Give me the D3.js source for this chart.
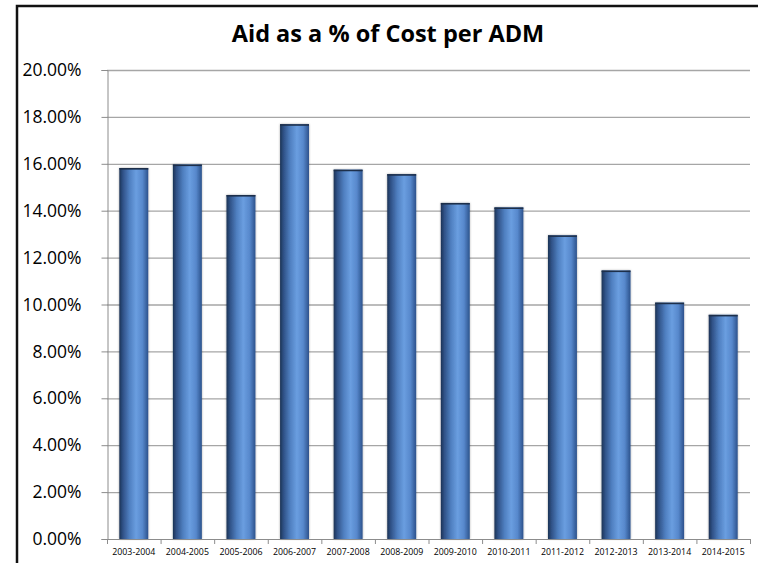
<!DOCTYPE html>
<html>
<head>
<meta charset="utf-8">
<script src="https://cdn.jsdelivr.net/npm/d3@7"></script>
<style>
  html, body { margin: 0; padding: 0; background: #fff; }
  svg { display: block; }
</style>
</head>
<body>
<svg id="chart" width="758" height="563"></svg>
<script>
// School years on the category axis
const categories = ["2003-2004", "2004-2005", "2005-2006", "2006-2007", "2007-2008", "2008-2009",
                    "2009-2010", "2010-2011", "2011-2012", "2012-2013", "2013-2014", "2014-2015"];
// Aid as a share of cost per ADM (percent)
const aidPct = [15.82, 15.97, 14.67, 17.69, 15.75, 15.56, 14.33, 14.14, 12.95, 11.45, 10.08, 9.56];
// Value axis ticks (percent)
const yTicks = [0, 2, 4, 6, 8, 10, 12, 14, 16, 18, 20];

const W = 758, H = 563;
const plot = { left: 107, right: 750, top: 70, bottom: 539 };
const FONT = "'Open Sans', 'Liberation Sans', sans-serif";

const svg = d3.select("#chart");
const defs = svg.append("defs");

// Cylinder-like shading across each bar
const grad = defs.append("linearGradient").attr("id", "barGrad")
  .attr("x1", "0%").attr("x2", "100%").attr("y1", "0%").attr("y2", "0%");
[["0%", "#1c3355"], ["12%", "#2f5186"], ["35%", "#4f7fc0"], ["58%", "#6a9ee0"],
 ["80%", "#5788cc"], ["100%", "#2c528c"]].forEach(([o, c]) =>
  grad.append("stop").attr("offset", o).attr("stop-color", c));

const shadow = defs.append("filter").attr("id", "barShadow")
  .attr("x", "-20%").attr("y", "-5%").attr("width", "140%").attr("height", "110%");
shadow.append("feDropShadow").attr("dx", 0).attr("dy", 0).attr("stdDeviation", 1.2)
  .attr("flood-color", "#000").attr("flood-opacity", 0.35);

const x = d3.scaleBand().domain(categories).range([plot.left, plot.right])
  .paddingInner(0.46).paddingOuter(0.23);
const y = d3.scaleLinear().domain([0, 20]).range([plot.bottom, plot.top]);

// Frame: heavy line along the top and left side
svg.append("path")
  .attr("d", `M17,${H} L17,6 L${W},6`)
  .attr("fill", "none").attr("stroke", "#111").attr("stroke-width", 2.5);

// Title
svg.append("text")
  .attr("x", 388).attr("y", 42)
  .attr("text-anchor", "middle")
  .attr("font-family", FONT)
  .attr("font-weight", "bold").attr("font-size", 23.5)
  .attr("fill", "#000")
  .text("Aid as a % of Cost per ADM");

// Horizontal gridlines
svg.append("g").selectAll("line").data(yTicks.filter(d => d > 0)).join("line")
  .attr("x1", plot.left).attr("x2", plot.right)
  .attr("y1", d => y(d) + 0.5).attr("y2", d => y(d) + 0.5)
  .attr("stroke", "#a6a6a6").attr("stroke-width", 1.3);

// Value axis
const yAxis = svg.append("g").attr("transform", `translate(${plot.left + 0.5},0)`)
  .call(d3.axisLeft(y).tickValues(yTicks).tickSize(6).tickPadding(20)
    .tickFormat(d => d.toFixed(2) + "%"));
yAxis.select(".domain").attr("stroke", "#8c8c8c");
yAxis.selectAll(".tick line").attr("stroke", "#8c8c8c");
yAxis.selectAll("text")
  .attr("font-family", FONT)
  .attr("font-size", 17.5).attr("fill", "#000");

// Bars
svg.append("g").selectAll("rect").data(aidPct).join("rect")
  .attr("x", (d, i) => x(categories[i]))
  .attr("y", d => y(d))
  .attr("width", x.bandwidth())
  .attr("height", d => y(0) - y(d))
  .attr("fill", "url(#barGrad)")
  .attr("filter", "url(#barShadow)");

// Dark rim on each bar top
svg.append("g").selectAll("line").data(aidPct).join("line")
  .attr("x1", (d, i) => x(categories[i]))
  .attr("x2", (d, i) => x(categories[i]) + x.bandwidth())
  .attr("y1", d => y(d) + 0.8).attr("y2", d => y(d) + 0.8)
  .attr("stroke", "#1d2f4a").attr("stroke-width", 1.6);

// Category axis
const xAxis = svg.append("g").attr("transform", `translate(0,${plot.bottom + 0.5})`)
  .call(d3.axisBottom(x).tickSize(0).tickPadding(9));
xAxis.select(".domain").attr("stroke", "#8c8c8c").attr("d", `M${plot.left},0H${plot.right}`);
xAxis.selectAll("text")
  .attr("font-family", FONT)
  .attr("font-size", 8.8).attr("fill", "#000");

// Tick marks between categories
const step = (plot.right - plot.left) / categories.length;
svg.append("g").selectAll("line").data(d3.range(categories.length + 1)).join("line")
  .attr("x1", i => plot.left + i * step + 0.5).attr("x2", i => plot.left + i * step + 0.5)
  .attr("y1", plot.bottom).attr("y2", plot.bottom + 5)
  .attr("stroke", "#8c8c8c");
</script>
</body>
</html>
